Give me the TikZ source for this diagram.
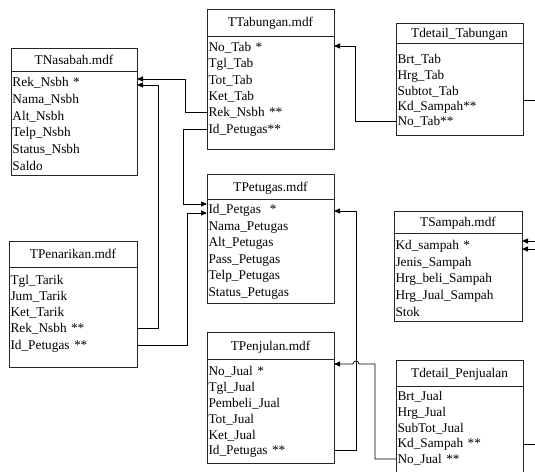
\documentclass[tikz,border=0pt]{standalone}
\usepackage{fontspec}
\setmainfont{Liberation Serif}
\newfontfamily\erfont{Liberation Serif}
\usetikzlibrary{arrows.meta,calc}
\tikzset{
  boxline/.style={draw=black!85, line width=0.9pt},
  erbody/.style={boxline, inner sep=0pt, outer sep=0pt, anchor=north west},
  titletxt/.style={inner sep=0pt, text height=9pt, text depth=0pt, font=\erfont\fontsize{13.3}{16}\selectfont},
  rowtxt/.style={inner xsep=1.5pt, inner ysep=0pt, outer sep=0pt, align=left, text height=9pt, text depth=0pt, font=\erfont\fontsize{13.3}{16}\selectfont},
  link/.style={draw=black, line width=0.8pt},
  conn/.style={link, -{Triangle[length=6pt,width=5pt]}},
}
\newcommand\erbox[8]{%
  \pgfmathsetmacro\bw{#3-#2}%
  \pgfmathsetmacro\bh{#6-#4}%
  \node[erbody, minimum width=\bw pt, minimum height=\bh pt] (#1) at (#2,#4) {};
  \draw[boxline] (#2,#5) -- (#3,#5);
  \node[titletxt] (#1-t) at ({(#2+#3)/2},{(#4+#5)/2}) {#7};
  \foreach \yy/\txt [count=\i] in {#8} {
    \node[rowtxt, text width={\bw pt-3pt}] (#1-\i) at ({(#2+#3)/2},\yy) {\txt};
  }%
}
\begin{document}
\begin{tikzpicture}[x=1pt,y=-1pt]
\useasboundingbox (0,0) rectangle (535,471);
\erbox{tn}{11}{137}{48}{71}{175}{TNasabah.mdf}{82/Rek\_Nsbh *, 99/Nama\_Nsbh, 116/Alt\_Nsbh, 132/Telp\_Nsbh, 149/Status\_Nsbh, 166/Saldo}
\erbox{tt}{207}{334}{9}{36}{149}{TTabungan.mdf}{47/No\_Tab *, 63/Tgl\_Tab, 80/Tot\_Tab, 96/Ket\_Tab, 112/Rek\_Nsbh **, 129/Id\_Petugas**}
\erbox{dt}{396}{523}{23}{43}{135}{Tdetail\_Tabungan}{59/Brt\_Tab, 75/Hrg\_Tab, 91/Subtot\_Tab, 106/Kd\_Sampah**, 121/No\_Tab**}
\erbox{tp}{207}{334}{174}{199}{303}{TPetugas.mdf}{209/Id\_Petgas\ \ *, 226/Nama\_Petugas, 242/Alt\_Petugas, 259/Pass\_Petugas, 275/Telp\_Petugas, 292/Status\_Petugas}
\erbox{ts}{394}{522}{211}{233}{321}{TSampah.mdf}{245/Kd\_sampah *, 262/Jenis\_Sampah, 278/Hrg\_beli\_Sampah, 295/Hrg\_Jual\_Sampah, 312/Stok}
\erbox{tk}{9}{137}{241}{267}{367}{TPenarikan.mdf}{280/Tgl\_Tarik, 296/Jum\_Tarik, 312/Ket\_Tarik, 328/Rek\_Nsbh **, 345/Id\_Petugas **}
\erbox{tj}{207}{334}{332}{359}{463}{TPenjulan.mdf}{371/No\_Jual *, 387/Tgl\_Jual, 403/Pembeli\_Jual, 419/Tot\_Jual, 435/Ket\_Jual, 450/Id\_Petugas **}
\erbox{dp}{396}{523}{360}{386}{490}{Tdetail\_Penjualan}{396/Brt\_Jual, 412/Hrg\_Jual, 428/SubTot\_Jual, 443/Kd\_Sampah **, 459/No\_Jual **}
% connectors
\draw[conn] (tt-5.west) -- ++(-22,0) |- ([yshift=3pt]tn-1.east);
\draw[conn] (tt-6.west) -- ++(-24,0) |- ([yshift=5pt]tp-1.west);
\draw[conn] (tk-4.east) -- ++(21,0) |- ([yshift=-3pt]tn-1.east);
\draw[conn] (tk-5.east) -- ++(50,0) |- ([yshift=-4pt]tp-1.west);
\draw[conn] (dt-5.west) -- ++(-41,0) |- ([yshift=1pt]tt-1.east);
\draw[conn] (tj-6.east) -- ++(22,0) |- ([yshift=-2pt]tp-1.east);
\draw[conn] (dp-5.west) -- ++(-21,0) |- ([yshift=7pt,xshift=25pt]tj-1.east)
   arc[start angle=0,end angle=180,radius=3pt] -- ([yshift=7pt]tj-1.east);
\coordinate (offA) at (545,100);
\coordinate (offB) at (545,241);
\coordinate (offC) at (545,249);
\coordinate (offD) at (545,444);
\draw[link] (dt-4.east |- offA) -- (offA);
\draw[conn] (offB) -- (offB -| ts-1.east);
\draw[conn] (offC) -- (offC -| ts-1.east);
\draw[link] (dp-4.east |- offD) -- (offD);
\end{tikzpicture}
\end{document}
